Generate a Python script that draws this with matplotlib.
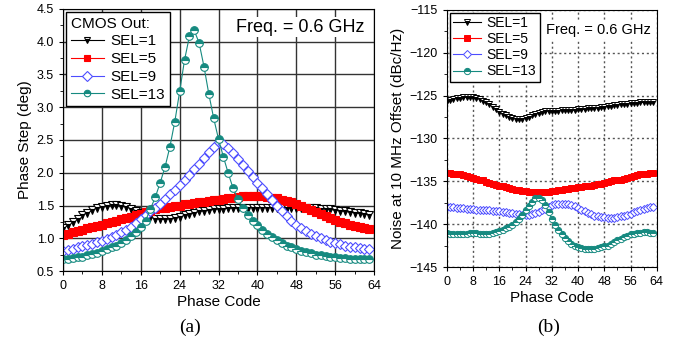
import matplotlib
matplotlib.use("Agg")
import matplotlib.pyplot as plt
from matplotlib.ticker import MultipleLocator

# ---- data ----
codes = list(range(64))

# (a) phase step, deg
step_sel1 = [1.15, 1.20, 1.25, 1.30, 1.35, 1.39, 1.43, 1.46, 1.48, 1.50, 1.51, 1.51, 1.50, 1.48, 1.45, 1.42,
             1.38, 1.35, 1.32, 1.30, 1.29, 1.29, 1.30, 1.31, 1.33, 1.35, 1.37, 1.39, 1.41, 1.42, 1.43, 1.44,
             1.45, 1.45, 1.46, 1.46, 1.46, 1.47, 1.47, 1.47, 1.47, 1.47, 1.47, 1.47, 1.47, 1.47, 1.47, 1.47,
             1.47, 1.47, 1.46, 1.46, 1.46, 1.45, 1.45, 1.44, 1.43, 1.42, 1.41, 1.40, 1.39, 1.38, 1.37, 1.36]
step_sel5 = [1.05, 1.07, 1.09, 1.11, 1.13, 1.15, 1.17, 1.19, 1.21, 1.23, 1.25, 1.27, 1.29, 1.31, 1.33, 1.35,
             1.37, 1.40, 1.42, 1.44, 1.46, 1.47, 1.48, 1.49, 1.50, 1.52, 1.53, 1.54, 1.55, 1.56, 1.57, 1.58,
             1.59, 1.60, 1.61, 1.62, 1.63, 1.64, 1.65, 1.65, 1.65, 1.64, 1.63, 1.62, 1.61, 1.59, 1.57, 1.55,
             1.52, 1.49, 1.46, 1.43, 1.40, 1.37, 1.34, 1.31, 1.28, 1.25, 1.23, 1.21, 1.19, 1.17, 1.15, 1.14]
step_sel9 = [0.80, 0.82, 0.84, 0.86, 0.88, 0.90, 0.92, 0.94, 0.96, 0.99, 1.02, 1.05, 1.09, 1.13, 1.18, 1.23,
             1.29, 1.35, 1.41, 1.47, 1.53, 1.60, 1.67, 1.74, 1.81, 1.89, 1.97, 2.05, 2.14, 2.23, 2.32, 2.40,
             2.47, 2.44, 2.38, 2.30, 2.21, 2.12, 2.03, 1.94, 1.85, 1.76, 1.67, 1.58, 1.49, 1.41, 1.34, 1.27,
             1.21, 1.16, 1.11, 1.07, 1.03, 1.00, 0.97, 0.95, 0.93, 0.91, 0.89, 0.87, 0.86, 0.85, 0.84, 0.84]
step_sel13 = [0.68, 0.69, 0.70, 0.71, 0.72, 0.74, 0.76, 0.78, 0.80, 0.83, 0.86, 0.89, 0.93, 0.98, 1.03, 1.09,
              1.17, 1.27, 1.45, 1.63, 1.85, 2.09, 2.40, 2.78, 3.24, 3.72, 4.08, 4.17, 3.98, 3.62, 3.20, 2.83,
              2.51, 2.24, 1.99, 1.76, 1.60, 1.46, 1.36, 1.27, 1.20, 1.13, 1.07, 1.02, 0.97, 0.93, 0.89, 0.86,
              0.83, 0.81, 0.79, 0.77, 0.75, 0.74, 0.73, 0.72, 0.71, 0.70, 0.70, 0.69, 0.69, 0.69, 0.68, 0.68]

# (b) noise at 10 MHz offset, dBc/Hz
noise_sel1 = [-125.6, -125.5, -125.4, -125.3, -125.3, -125.2, -125.2, -125.2, -125.2, -125.3, -125.4, -125.6,
              -125.8, -126.0, -126.3, -126.6, -126.9, -127.1, -127.3, -127.5, -127.6, -127.7, -127.7, -127.7,
              -127.6, -127.5, -127.3, -127.1, -127.0, -126.9, -126.8, -126.8, -126.8, -126.8, -126.8, -126.7,
              -126.7, -126.7, -126.7, -126.7, -126.6, -126.6, -126.6, -126.5, -126.5, -126.4, -126.4, -126.3,
              -126.3, -126.2, -126.2, -126.1, -126.1, -126.0, -126.0, -126.0, -125.9, -125.9, -125.9, -125.8,
              -125.8, -125.8, -125.7, -125.7]
noise_sel5 = [-134.0, -134.0, -134.1, -134.1, -134.2, -134.3, -134.4, -134.5, -134.6, -134.7, -134.8, -134.9,
              -135.1, -135.2, -135.3, -135.4, -135.5, -135.6, -135.7, -135.8, -135.9, -136.0, -136.0, -136.1,
              -136.1, -136.2, -136.2, -136.2, -136.2, -136.2, -136.2, -136.2, -136.1, -136.1, -136.0, -136.0,
              -135.9, -135.9, -135.8, -135.8, -135.7, -135.7, -135.6, -135.5, -135.5, -135.4, -135.3, -135.3,
              -135.2, -135.1, -135.0, -134.9, -134.9, -134.8, -134.7, -134.6, -134.5, -134.4, -134.3, -134.2,
              -134.2, -134.1, -134.0, -134.0]
noise_sel9 = [-138.0, -138.0, -138.0, -138.1, -138.1, -138.1, -138.2, -138.2, -138.2, -138.3, -138.3, -138.3,
              -138.4, -138.4, -138.5, -138.5, -138.5, -138.6, -138.6, -138.7, -138.7, -138.8, -138.8, -138.9,
              -138.9, -138.9, -138.8, -138.7, -138.6, -138.4, -138.2, -138.0, -137.8, -137.7, -137.6, -137.6,
              -137.6, -137.7, -137.8, -137.9, -138.1, -138.3, -138.5, -138.7, -138.8, -139.0, -139.1, -139.2,
              -139.2, -139.3, -139.3, -139.3, -139.2, -139.1, -139.0, -138.9, -138.8, -138.6, -138.5, -138.3,
              -138.2, -138.1, -138.0, -138.0]
noise_sel13 = [-141.0, -141.1, -141.1, -141.2, -141.2, -141.2, -141.1, -141.0, -141.0, -141.0, -141.1, -141.2,
               -141.2, -141.1, -141.0, -140.9, -140.8, -140.7, -140.5, -140.3, -140.1, -139.8, -139.4, -138.9,
               -138.4, -137.9, -137.4, -137.0, -136.9, -137.2, -137.8, -138.6, -139.4, -140.1, -140.7, -141.2,
               -141.6, -142.0, -142.3, -142.5, -142.7, -142.8, -142.9, -142.9, -142.9, -142.9, -142.8, -142.7,
               -142.6, -142.5, -142.3, -142.1, -141.9, -141.7, -141.5, -141.4, -141.2, -141.1, -141.0, -141.0,
               -140.9, -140.9, -141.0, -141.0]

series_labels = ['SEL=1', 'SEL=5', 'SEL=9', 'SEL=13']
step_data = [step_sel1, step_sel5, step_sel9, step_sel13]
noise_data = [noise_sel1, noise_sel5, noise_sel9, noise_sel13]

STYLES = [
    dict(color='black', marker='v', markerfacecolor='black', markerfacecoloralt='white',
         fillstyle='bottom', markeredgecolor='black'),
    dict(color='red', marker='s', markerfacecolor='red', markeredgecolor='red'),
    dict(color='#4d4dff', marker='D', markerfacecolor='white', markeredgecolor='#4d4dff'),
    dict(color='#168a80', marker='o', markerfacecolor='#168a80', markerfacecoloralt='white',
         fillstyle='top', markeredgecolor='#168a80'),
]

plt.rcParams['font.family'] = ['Liberation Sans', 'DejaVu Sans']

fig = plt.figure(figsize=(6.75, 3.41), dpi=100)
ax_a = fig.add_axes([0.0933, 0.205, 0.461, 0.769])
ax_b = fig.add_axes([0.662, 0.217, 0.311, 0.754])

# ---- (a) ----
for label, values, style in zip(series_labels, step_data, STYLES):
    ax_a.plot(codes, values, label=label, linewidth=0.8, markersize=5.5, markeredgewidth=0.8, **style)
ax_a.set_xlim(0, 64)
ax_a.set_ylim(0.5, 4.5)
ax_a.xaxis.set_major_locator(MultipleLocator(8))
ax_a.xaxis.set_minor_locator(MultipleLocator(4))
ax_a.yaxis.set_major_locator(MultipleLocator(0.5))
ax_a.yaxis.set_minor_locator(MultipleLocator(0.25))
ax_a.grid(True, which='major', color='#333333', linewidth=1.0)
ax_a.set_axisbelow(True)
ax_a.set_xlabel('Phase Code', fontsize=11, labelpad=2)
ax_a.set_ylabel('Phase Step (deg)', fontsize=11, labelpad=3)
ax_a.tick_params(labelsize=9, direction='out', length=3)
ax_a.tick_params(which='minor', length=2)
leg = ax_a.legend(title='CMOS Out:', loc='upper left', fontsize=11, title_fontsize=11,
                  fancybox=False, edgecolor='black', framealpha=1, borderaxespad=0.2,
                  handlelength=2.2, labelspacing=0.25, borderpad=0.3, handletextpad=0.4,
                  markerscale=0.85)
leg.get_frame().set_linewidth(1.0)
leg._legend_box.align = 'left'
ax_a.text(0.97, 0.93, 'Freq. = 0.6 GHz', transform=ax_a.transAxes, ha='right', va='center',
          fontsize=13, bbox=dict(facecolor='white', edgecolor='none', pad=1))
fig.text(0.282, 0.04, '(a)', ha='center', va='center', fontsize=14, family='Liberation Serif')

# ---- (b) ----
for label, values, style in zip(series_labels, noise_data, STYLES):
    ax_b.plot(codes, values, label=label, linewidth=0.8, markersize=4.5, markeredgewidth=0.7, **style)
ax_b.set_xlim(0, 64)
ax_b.set_ylim(-145, -115)
ax_b.xaxis.set_major_locator(MultipleLocator(8))
ax_b.xaxis.set_minor_locator(MultipleLocator(4))
ax_b.yaxis.set_major_locator(MultipleLocator(5))
ax_b.yaxis.set_minor_locator(MultipleLocator(2.5))
ax_b.grid(True, which='major', color='#555555', linewidth=1.0, linestyle=(0, (1.5, 2)))
ax_b.set_axisbelow(True)
ax_b.set_xlabel('Phase Code', fontsize=11, labelpad=2)
ax_b.set_ylabel('Noise at 10 MHz Offset (dBc/Hz)', fontsize=11, labelpad=3)
ax_b.tick_params(labelsize=9, direction='out', length=3)
ax_b.tick_params(which='minor', length=2)
leg_b = ax_b.legend(loc='upper left', fontsize=10, fancybox=False, edgecolor='black', framealpha=1,
                    borderaxespad=0.2, handlelength=2.0, labelspacing=0.15, borderpad=0.25,
                    handletextpad=0.4)
leg_b.get_frame().set_linewidth(1.0)
ax_b.text(0.97, 0.92, 'Freq. = 0.6 GHz', transform=ax_b.transAxes, ha='right', va='center',
          fontsize=10.5, bbox=dict(facecolor='white', edgecolor='none', pad=1))
fig.text(0.812, 0.04, '(b)', ha='center', va='center', fontsize=14, family='Liberation Serif')

fig.savefig('out.png', dpi=100)
